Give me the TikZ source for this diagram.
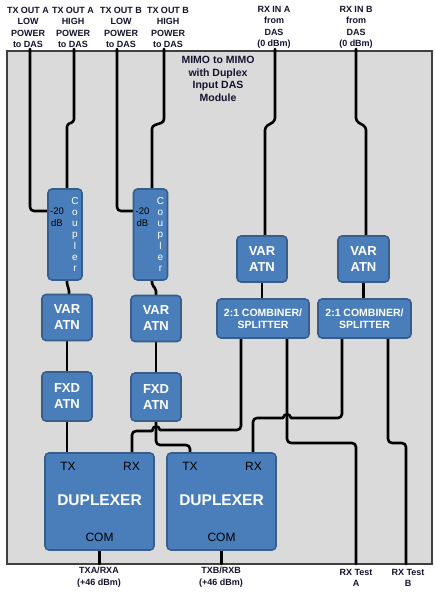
\documentclass[tikz,border=0pt]{standalone}
\usepackage{fontspec}
\setmainfont{Liberation Sans}
\definecolor{blkfill}{HTML}{4A7EBB}
\definecolor{blkdraw}{HTML}{385D8A}
\definecolor{bggray}{HTML}{DADADA}
\definecolor{txtdark}{HTML}{14142E}
\pgfdeclarelayer{back}
\pgfdeclarelayer{wires}
\pgfsetlayers{back,wires,main}
\begin{document}
\begin{tikzpicture}[x=1pt,y=-1pt,
  blk/.style={draw=blkdraw, line width=1.6pt, fill=blkfill, rounded corners=4pt, inner sep=0pt, text=white, align=center},
  atn/.style={blk, minimum width=50pt, minimum height=46pt, font=\fontsize{13}{16}\selectfont\bfseries},
  cmb/.style={blk, minimum width=92pt, minimum height=39pt, font=\fontsize{10.5}{12}\selectfont\bfseries},
  cpl/.style={blk, minimum width=34pt, minimum height=91pt},
  dup/.style={blk, minimum width=109pt, minimum height=97pt},
  wire/.style={line width=2.6pt, line cap=round, line join=round, rounded corners=4pt},
  hop/.style={line width=2.6pt, line cap=round},
  lbl/.style={font=\fontsize{9}{11.5}\selectfont\bfseries, text=txtdark, align=center, inner sep=0pt},
  port/.style={font=\fontsize{12}{14}\selectfont, text=black, inner sep=0pt},
  dtitle/.style={font=\fontsize{15.5}{18}\selectfont\bfseries, text=white, inner sep=0pt}
]
\useasboundingbox (0,0) rectangle (435,596);

% module background
\begin{pgfonlayer}{back}
\fill[white] (0,0) rectangle (435,596);
\draw[fill=bggray, draw=black!75, line width=1.3pt] (7,51) rectangle (432,564);
\end{pgfonlayer}

% title
\node[lbl, font=\fontsize{10.5}{12.7}\selectfont\bfseries] (title) at (218,79) {MIMO to MIMO\\with Duplex\\Input DAS\\Module};

% top labels
\node[lbl] (lTAL) at (28,27.5) {TX OUT A\\LOW\\POWER\\to DAS};
\node[lbl] (lTAH) at (73,27.5) {TX OUT A\\HIGH\\POWER\\to DAS};
\node[lbl] (lTBL) at (121,27.5) {TX OUT B\\LOW\\POWER\\to DAS};
\node[lbl] (lTBH) at (168,27.5) {TX OUT B\\HIGH\\POWER\\to DAS};
\node[lbl] (lRA) at (274,27.5) {RX IN A\\from\\DAS\\(0 dBm)};
\node[lbl] (lRB) at (356,27.5) {RX IN B\\from\\DAS\\(0 dBm)};

% bottom labels
\node[lbl] (lOA) at (99,577) {TXA/RXA\\(+46 dBm)};
\node[lbl] (lOB) at (221,577) {TXB/RXB\\(+46 dBm)};
\node[lbl] (lTA) at (356,578) {RX Test\\A};
\node[lbl] (lTB) at (408,578) {RX Test\\B};

% wire free ends
\coordinate (iAL) at (30,49);
\coordinate (iAH) at (74,49);
\coordinate (iBL) at (117,49);
\coordinate (iBH) at (164,49);
\coordinate (iRA) at (275,49);
\coordinate (iRB) at (356,49);
\coordinate (oA) at (99.5,564);
\coordinate (oB) at (221.5,564);
\coordinate (oTA) at (356,564);
\coordinate (oTB) at (406,564);

% blocks
\node[cpl] (cplA) at (65,234.5) {};
\node[cpl] (cplB) at (150.5,234.5) {};
\foreach \c/\x in {cplA/65, cplB/150.5} {
  \node[text=black, font=\fontsize{9.5}{11.5}\selectfont, align=center, inner sep=0pt] at (\x-8,217) {-20\\dB};
  \node[text=white, font=\fontsize{10}{11.2}\selectfont, align=center, inner sep=0pt] at (\x+10,234.5) {C\\o\\u\\p\\l\\e\\r};
}
\node[atn] (varA) at (67,317.5) {VAR\\ATN};
\node[atn] (varB) at (156,318.5) {VAR\\ATN};
\node[atn, minimum height=49pt] (fxdA) at (67,396.5) {FXD\\ATN};
\node[atn, minimum height=48pt] (fxdB) at (156,397) {FXD\\ATN};
\node[atn] (varRA) at (262,259) {VAR\\ATN};
\node[atn, minimum width=51pt] (varRB) at (363.5,259) {VAR\\ATN};
\node[cmb] (cmbA) at (263,318.5) {2:1 COMBINER/\\SPLITTER};
\node[cmb, minimum width=93pt] (cmbB) at (364.5,318.5) {2:1 COMBINER/\\SPLITTER};
\node[dup] (dupA) at (99.5,501.5) {};
\node[dup] (dupB) at (221.5,501.5) {};
\foreach \d/\x in {dupA/99.5, dupB/221.5} {
  \node[port] at (\x-31.5,466) {TX};
  \node[port] at (\x+32,466) {RX};
  \node[dtitle] at (\x,500) {DUPLEXER};
  \node[port] at (\x,537) {COM};
}

% wires
\begin{pgfonlayer}{wires}
% TX A
\draw[wire] (iAL) -- (30,211) -- ([yshift=23.5pt]cplA.west);
\draw[wire, rounded corners=3pt] (iAH) -- (74,122) -- (67,124) -- ([xshift=2pt]cplA.north);
\draw[wire, rounded corners=2pt] ([xshift=2pt]cplA.south) -- (67,285) -- (69,289) -- ([xshift=2pt]varA.north);
\draw[wire] (varA.south) -- (fxdA.north);
\draw[wire] (fxdA.south) -- ([xshift=-32.5pt]dupA.north);
% TX B
\draw[wire] (iBL) -- (117,211) -- ([yshift=23.5pt]cplB.west);
\draw[wire, rounded corners=3pt] (iBH) -- (164,122) -- (152,126) -- ([xshift=1.5pt]cplB.north);
\draw[wire, rounded corners=2pt] ([xshift=1.5pt]cplB.south) -- (152,285) -- (156,289) -- (varB.north);
\draw[wire] (varB.south) -- (fxdB.north);
\draw[wire] (fxdB.south) -- (156,445) -- (190,445) -- ([xshift=-31.5pt]dupB.north);
% RX A
\draw[wire, rounded corners=3pt] (iRA) -- (275,121) -- (265,127) -- ([xshift=3pt]varRA.north);
\draw[wire] (varRA.south) -- ([xshift=-1pt]cmbA.north);
\draw[wire] ([xshift=-22pt]cmbA.south) -- (241,430) -- (160,430);
\draw[hop] (160,430) .. controls (159,425) and (153,425) .. (152,431);
\draw[wire] (152,431) -- (132,431) -- ([xshift=32.5pt]dupA.north);
\draw[wire] ([xshift=24pt]cmbA.south) -- (287,443) -- (356,443) -- (oTA);
% RX B
\draw[wire, rounded corners=3pt] (iRB) -- (356,121) -- (366,127) -- ([xshift=2.5pt]varRB.north);
\draw[wire] (varRB.south) -- ([xshift=-1pt]cmbB.north);
\draw[wire] ([xshift=-22.5pt]cmbB.south) -- (342,418) -- (291,418);
\draw[hop] (291,418) .. controls (290,413) and (284,413) .. (283,418);
\draw[wire] (283,418) -- (253,418) -- ([xshift=31.5pt]dupB.north);
\draw[wire] ([xshift=23.5pt]cmbB.south) -- (388,443) -- (406,443) -- (oTB);
% outputs
\draw[wire] (dupA.south) -- (oA);
\draw[wire] (dupB.south) -- (oB);
\end{pgfonlayer}
\end{tikzpicture}
\end{document}
